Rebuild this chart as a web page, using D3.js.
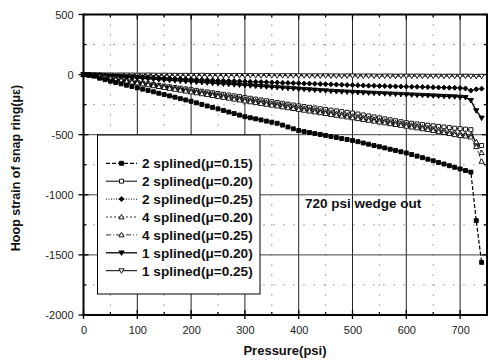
<!DOCTYPE html>
<html><head><meta charset="utf-8">
<script src="https://cdn.jsdelivr.net/npm/d3@7"></script>
<style>body{margin:0;background:#fff}svg{display:block}text{font-family:"Liberation Sans",Arial,sans-serif}</style>
</head><body><svg id="c" width="490" height="362"></svg>
<script>
const pressure = [0,10,20,30,40,50,60,70,80,90,100,110,120,130,140,150,160,170,180,190,200,210,220,230,240,250,260,270,280,290,300,310,320,330,340,350,360,370,380,390,400,410,420,430,440,450,460,470,480,490,500,510,520,530,540,550,560,570,580,590,600,610,620,630,640,650,660,670,680,690,700,710,720,730,740];

const s2_015 = [0,-3,-12,-30,-42,-55,-66,-77,-88,-99,-110,-121,-132,-143,-155,-166,-177,-188,-200,-211,-222,-235,-248,-261,-273,-285,-298,-311,-324,-337,-350,-359,-368,-377,-387,-396,-405,-420,-436,-451,-465,-474,-482,-490,-498,-506,-515,-523,-532,-540,-548,-558,-569,-579,-590,-600,-610,-621,-631,-642,-652,-665,-678,-691,-704,-717,-731,-744,-758,-771,-785,-798,-811,-1215,-1562];
const s2_020 = [0,-2,-8,-15,-23,-30,-37,-44,-51,-58,-65,-71,-77,-83,-89,-95,-101,-107,-113,-119,-125,-131,-138,-144,-151,-157,-164,-170,-177,-183,-190,-197,-204,-211,-218,-225,-232,-239,-246,-253,-260,-266,-272,-278,-284,-290,-296,-302,-308,-314,-320,-328,-336,-344,-352,-360,-368,-376,-384,-392,-400,-405,-410,-416,-421,-426,-431,-436,-441,-446,-450,-454,-458,-585,-590];
const s2_025 = [0,-1,-3,-5,-7,-9,-11,-13,-15,-17,-19,-21,-23,-25,-27,-29,-31,-33,-35,-37,-39,-41,-43,-45,-48,-50,-51,-53,-54,-56,-57,-59,-60,-62,-63,-65,-66,-68,-69,-71,-72,-74,-75,-77,-78,-80,-81,-83,-84,-86,-88,-89,-90,-92,-93,-94,-95,-97,-98,-99,-100,-101,-102,-103,-104,-106,-107,-108,-109,-110,-112,-115,-133,-122,-117];
const s4_020 = [0,-4,-10,-18,-26,-34,-41,-48,-56,-63,-70,-78,-85,-93,-100,-108,-115,-123,-130,-138,-145,-152,-160,-167,-175,-182,-190,-197,-205,-212,-220,-227,-234,-241,-248,-255,-262,-269,-276,-283,-290,-297,-304,-311,-318,-325,-332,-339,-346,-353,-360,-367,-374,-381,-388,-395,-402,-409,-416,-423,-430,-437,-444,-451,-458,-466,-475,-483,-491,-500,-508,-512,-520,-600,-722];
const s4_025 = [0,-3,-9,-16,-23,-30,-37,-44,-51,-58,-65,-72,-79,-86,-93,-100,-107,-114,-121,-128,-135,-142,-149,-156,-163,-170,-177,-184,-191,-198,-205,-212,-219,-226,-233,-240,-247,-254,-261,-268,-275,-282,-289,-296,-303,-310,-317,-324,-331,-338,-345,-352,-359,-366,-373,-380,-387,-394,-401,-408,-415,-422,-429,-436,-443,-450,-458,-466,-474,-482,-490,-497,-505,-560,-650];
const s1_020 = [0,-2,-5,-8,-11,-14,-17,-20,-23,-26,-29,-32,-35,-38,-41,-44,-47,-50,-53,-56,-59,-62,-65,-68,-71,-74,-77,-80,-83,-86,-89,-92,-95,-98,-101,-104,-107,-110,-113,-116,-119,-122,-125,-128,-131,-134,-137,-140,-142,-144,-146,-148,-150,-152,-154,-156,-158,-160,-162,-164,-166,-168,-170,-172,-174,-176,-178,-180,-182,-184,-187,-190,-215,-300,-361];
const s1_025 = [0,0,-1,-1,-2,-2,-3,-2,-3,-3,-4,-4,-3,-4,-5,-4,-5,-5,-6,-5,-6,-6,-5,-6,-7,-6,-7,-7,-6,-7,-8,-7,-8,-8,-7,-8,-9,-8,-9,-8,-9,-9,-10,-9,-10,-9,-10,-10,-11,-10,-10,-11,-11,-10,-11,-12,-11,-11,-12,-11,-12,-12,-11,-12,-13,-12,-12,-13,-12,-13,-13,-12,-13,-14,-13];

const seriesNames = ["2 splined(\u03bc=0.15)","2 splined(\u03bc=0.20)","2 splined(\u03bc=0.25)","4 splined(\u03bc=0.20)","4 splined(\u03bc=0.25)","1 splined(\u03bc=0.20)","1 splined(\u03bc=0.25)"];
const seriesValues = [s2_015, s2_020, s2_025, s4_020, s4_025, s1_020, s1_025];
const xTicks = [0,100,200,300,400,500,600,700];
const yTicks = [500,0,-500,-1000,-1500,-2000];
const annotation = "720 psi wedge out";

const styles = [
  {sym:"square", fill:"#000", dash:"4,2", lw:1.2},
  {sym:"square", fill:"#fff", dash:null, lw:1},
  {sym:"diamond", fill:"#000", dash:"1,1.5", lw:1},
  {sym:"triangle", fill:"#fff", dash:"2,2", lw:0.8},
  {sym:"triangle", fill:"#fff", dash:"5,2,1,2", lw:0.8},
  {sym:"tdown", fill:"#000", dash:null, lw:1.3},
  {sym:"tdown", fill:"#fff", dash:null, lw:1}
];

const svg = d3.select("#c");
const x = d3.scaleLinear().domain([0,750]).range([83.5,487]);
const y = d3.scaleLinear().domain([-2000,500]).range([315,14.5]);

// minor grid (dotted)
const g = svg.append("g");
d3.range(50,750,100).forEach(v=>g.append("line").attr("x1",x(v)).attr("x2",x(v)).attr("y1",y(500)).attr("y2",y(-2000)).attr("stroke","#555").attr("stroke-width",1).attr("stroke-dasharray","1,9"));
[250,-250,-750,-1250,-1750].forEach(v=>g.append("line").attr("y1",y(v)).attr("y2",y(v)).attr("x1",x(0)).attr("x2",x(750)).attr("stroke","#555").attr("stroke-width",1).attr("stroke-dasharray","1,9"));
// major grid
xTicks.slice(1).forEach(v=>g.append("line").attr("x1",x(v)).attr("x2",x(v)).attr("y1",y(500)).attr("y2",y(-2000)).attr("stroke","#222").attr("stroke-width",1));
[0,-500,-1000,-1500].forEach(v=>g.append("line").attr("y1",y(v)).attr("y2",y(v)).attr("x1",x(0)).attr("x2",x(750)).attr("stroke","#444").attr("stroke-width",1));

// axes
const axB = d3.axisBottom(x).tickValues(xTicks).tickSize(0).tickPadding(11);
const axL = d3.axisLeft(y).tickValues(yTicks).tickSize(0).tickPadding(10).tickFormat(d=>d);
const gb = svg.append("g").attr("transform",`translate(0,${y(-2000)})`).call(axB);
const gl = svg.append("g").attr("transform",`translate(${x(0)},0)`).call(axL);
[gb,gl].forEach(a=>{a.select(".domain").remove();a.selectAll("text").attr("font-size",11).attr("fill","#222").attr("font-family","Liberation Sans, Arial, sans-serif");});

// ticks
const tk = svg.append("g").attr("stroke","#000");
d3.range(0,751,50).forEach(v=>{
  const maj = v%100===0;
  tk.append("line").attr("x1",x(v)).attr("x2",x(v)).attr("y1",y(-2000)+(maj?4:0)).attr("y2",y(-2000)-(maj?5:3)).attr("stroke-width",1.3);
  tk.append("line").attr("x1",x(v)).attr("x2",x(v)).attr("y1",y(500)).attr("y2",y(500)+(maj?5:3)).attr("stroke-width",1.3);
});
d3.range(-2000,501,250).forEach(v=>{
  const maj = v%500===0;
  tk.append("line").attr("y1",y(v)).attr("y2",y(v)).attr("x1",x(0)-(maj?5:0)).attr("x2",x(0)+(maj?5:3)).attr("stroke-width",1.3);
  tk.append("line").attr("y1",y(v)).attr("y2",y(v)).attr("x1",x(750)).attr("x2",x(750)-(maj?5:3)).attr("stroke-width",1.3);
});

// frame
svg.append("rect").attr("x",x(0)).attr("y",y(500)).attr("width",x(750)-x(0)).attr("height",y(-2000)-y(500)).attr("fill","none").attr("stroke","#000").attr("stroke-width",2);

// symbols
function sym(sel, type, fill, cx, cy){
  let d;
  if(type==="square") d=`M${cx-2},${cy-2}h4v4h-4z`;
  else if(type==="diamond") d=`M${cx},${cy-2.5}l2.5,2.5l-2.5,2.5l-2.5,-2.5z`;
  else if(type==="triangle") d=`M${cx},${cy-2.6}l2.6,4.5h-5.2z`;
  else d=`M${cx},${cy+2.6}l2.6,-4.5h-5.2z`;
  return sel.append("path").attr("d",d).attr("fill",fill).attr("stroke","#000").attr("stroke-width",0.9);
}

const line = d3.line().x(d=>x(d[0])).y(d=>y(d[1]));
const order = [6,2,5,1,4,3,0];
order.forEach(i=>{
  const st = styles[i];
  const pts = pressure.map((p,j)=>[p, seriesValues[i][j]]);
  const gs = svg.append("g");
  gs.append("path").attr("d",line(pts)).attr("fill","none").attr("stroke","#000").attr("stroke-width",st.lw).attr("stroke-dasharray",st.dash);
  pts.forEach(p=>sym(gs, st.sym, st.fill, x(p[0]), y(p[1])));
});

// annotation
svg.append("text").attr("x",305).attr("y",208).attr("font-size",13.5).attr("font-weight","bold").attr("fill","#111").text(annotation);

// legend
const lg = svg.append("g");
lg.append("rect").attr("x",97.5).attr("y",135).attr("width",162.5).attr("height",159).attr("fill","#fff").attr("stroke","#000").attr("stroke-width",1);
seriesNames.forEach((n,i)=>{
  const cy = 163.3 + i*17.9;
  const st = styles[i];
  lg.append("line").attr("x1",106).attr("x2",137).attr("y1",cy).attr("y2",cy).attr("stroke","#000").attr("stroke-width",st.lw).attr("stroke-dasharray",st.dash);
  sym(lg, st.sym, st.fill, 121.5, cy);
  lg.append("text").attr("x",142).attr("y",cy+4.8).attr("font-size",13.6).attr("font-weight","bold").attr("fill","#111").text(n);
});

// axis titles
svg.append("text").attr("x",285).attr("y",355).attr("text-anchor","middle").attr("font-size",13).attr("font-weight","bold").attr("fill","#111").text("Pressure(psi)");
svg.append("text").attr("transform","translate(20,168) rotate(-90)").attr("text-anchor","middle").attr("font-size",12.5).attr("font-weight","bold").attr("fill","#111").text("Hoop strain of snap ring(\u03bc\u03b5)");
</script></body></html>
